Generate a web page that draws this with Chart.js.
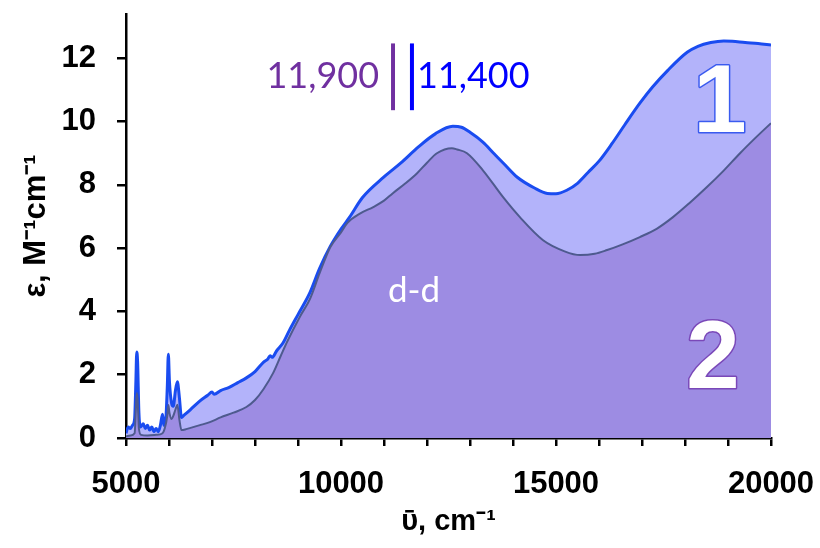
<!DOCTYPE html>
<html><head><meta charset="utf-8">
<script src="https://cdn.jsdelivr.net/npm/chart.js@4.4.0/dist/chart.umd.min.js"></script>
<style>html,body{margin:0;padding:0;background:#fff;}#wrap{width:820px;height:548px;}</style>
</head><body><div id="wrap"><canvas id="c" width="820" height="548"></canvas></div>
<script>
// Series 1 (upper, blue)
const wavenumber1 = [5000,5050,5100,5150,5200,5230,5250,5270,5300,5340,5400,5450,5500,5550,5600,5650,5700,5750,5800,5850,5880,5920,5960,5985,6010,6060,6100,6150,6195,6240,6290,6350,6500,6700,6900,7000,7050,7200,7400,7600,7800,8000,8200,8300,8350,8400,8500,8650,8800,9000,9280,9500,9750,10000,10200,10500,11000,11400,11800,12200,12600,12800,13000,13300,13550,13800,14100,14500,14800,15000,15250,15500,15750,16000,16300,16600,16950,17250,17600,18050,18300,18600,18900,19100,19400,19700,20000];
const epsilon1 = [0.15,0.35,0.3,0.4,0.6,1.8,2.72,2.4,0.8,0.35,0.45,0.3,0.4,0.25,0.35,0.2,0.3,0.2,0.4,0.75,0.4,0.5,1.6,2.65,1.8,1.1,1.0,1.5,1.78,1.3,0.65,0.72,0.9,1.15,1.35,1.45,1.38,1.5,1.6,1.75,1.9,2.1,2.4,2.5,2.6,2.55,2.75,3.0,3.4,3.9,4.6,5.35,6.05,6.6,6.98,7.6,8.25,8.7,9.2,9.62,9.85,9.82,9.66,9.35,9.0,8.65,8.24,7.9,7.73,7.72,7.83,8.05,8.4,8.75,9.3,9.9,10.58,11.1,11.62,12.19,12.38,12.5,12.55,12.54,12.5,12.47,12.42];
// Series 2 (lower, purple)
const wavenumber2 = [5000,5100,5200,5230,5250,5270,5300,5350,5500,5700,5850,5900,5960,5985,6010,6060,6100,6150,6195,6240,6290,6400,6700,6950,7200,7500,7800,8000,8200,8420,8600,8750,9050,9280,9500,9750,10000,10150,10450,10750,11000,11200,11500,11770,12000,12230,12580,12700,12930,13300,13770,14160,14700,15200,15560,15900,16190,16550,16950,17350,17720,18100,18510,18900,19280,19650,20000];
const epsilon2 = [0.05,0.08,0.15,0.9,1.42,1.2,0.3,0.1,0.08,0.1,0.15,0.3,0.7,1.04,0.8,0.6,0.7,0.9,1.05,0.6,0.25,0.28,0.4,0.5,0.65,0.8,0.98,1.2,1.55,2.05,2.6,3.05,3.85,4.4,5.2,6.03,6.5,6.8,7.1,7.3,7.5,7.73,8.05,8.37,8.7,9.0,9.16,9.12,9.0,8.46,7.61,6.98,6.25,5.9,5.78,5.82,5.94,6.12,6.35,6.62,6.98,7.42,7.93,8.45,9.0,9.5,9.95];
const xTickLabels = ['5000','10000','15000','20000'];
const yTickLabels = ['0','2','4','6','8','10','12'];
const seriesNames = ['1','2'];
const annoLabels = ['11,900','11,400','d-d'];

const pts = (xs, ys) => xs.map((v, i) => ({x: v, y: ys[i]}));
const FONT = '"Liberation Sans", Arial, sans-serif';
const TFONT = 'Lato, "Open Sans", sans-serif';

const annotate = {
  id: 'annotate',
  afterDatasetsDraw(chart) {
    const {ctx, scales: {x, y}} = chart;
    ctx.save();
    const b1 = x.getPixelForValue(11210), b2 = x.getPixelForValue(11650);
    const yt = y.getPixelForValue(12.47), yb = y.getPixelForValue(10.36);
    ctx.lineWidth = 4;
    ctx.strokeStyle = '#7030A0';
    ctx.beginPath(); ctx.moveTo(b1, yt); ctx.lineTo(b1, yb); ctx.stroke();
    ctx.strokeStyle = '#0000FF';
    ctx.beginPath(); ctx.moveTo(b2, yt); ctx.lineTo(b2, yb); ctx.stroke();
    ctx.font = '36px ' + TFONT;
    ctx.textBaseline = 'alphabetic';
    const by = y.getPixelForValue(11.05);
    ctx.fillStyle = '#7030A0'; ctx.textAlign = 'right';
    ctx.fillText(annoLabels[0], b1 - 14, by);
    ctx.fillStyle = '#0000FF'; ctx.textAlign = 'left';
    ctx.fillText(annoLabels[1], b2 + 5, by);
    ctx.fillStyle = '#FFFFFF'; ctx.textAlign = 'center';
    ctx.font = '35px ' + TFONT;
    ctx.fillText(annoLabels[2], x.getPixelForValue(11700), y.getPixelForValue(4.3));
    ctx.font = 'bold 96px ' + FONT;
    ctx.lineJoin = 'round';
    ctx.lineWidth = 3;
    ctx.strokeStyle = '#3A5BEF';
    ctx.strokeText(seriesNames[0], x.getPixelForValue(18814), y.getPixelForValue(9.66));
    ctx.fillStyle = '#FFFFFF';
    ctx.fillText(seriesNames[0], x.getPixelForValue(18814), y.getPixelForValue(9.66));
    ctx.strokeStyle = '#7A48B8';
    ctx.strokeText(seriesNames[1], x.getPixelForValue(18651), y.getPixelForValue(1.58));
    ctx.fillText(seriesNames[1], x.getPixelForValue(18651), y.getPixelForValue(1.58));
    ctx.restore();
  }
};

new Chart(document.getElementById('c'), {
  type: 'line',
  data: {
    datasets: [
      {label: seriesNames[1], data: pts(wavenumber2, epsilon2), order: 1,
       borderColor: '#4E5A8E', borderWidth: 2, backgroundColor: '#9D8CE3', fill: 'origin',
       pointRadius: 0, cubicInterpolationMode: 'monotone'},
      {label: seriesNames[0], data: pts(wavenumber1, epsilon1), order: 2,
       borderColor: '#1A4CF0', borderWidth: 3, backgroundColor: '#B3B3FA', fill: 'origin',
       pointRadius: 0, cubicInterpolationMode: 'monotone'}
    ]
  },
  options: {
    responsive: false, animation: false, devicePixelRatio: 1,
    layout: {padding: {top: 14, right: 49, left: 0, bottom: 0}},
    plugins: {legend: {display: false}, tooltip: {enabled: false}},
    scales: {
      x: {
        type: 'linear', min: 5000, max: 20000,
        ticks: {stepSize: 1000, autoSkip: false, maxRotation: 0, padding: 20, color: '#000',
          font: {family: FONT, size: 31, weight: 'bold'},
          callback: v => (v % 5000 === 0 ? xTickLabels[(v - 5000) / 5000] : '')},
        grid: {drawOnChartArea: false, color: '#000', lineWidth: 2.5, tickLength: 8},
        border: {color: '#000', width: 2.5},
        title: {display: true, text: 'ῡ, cm⁻¹', color: '#000',
          font: {family: FONT, size: 29, weight: 'bold'}, padding: {top: 0, bottom: 9}},
        afterFit: s => { s.height = 110; s.paddingLeft = 0; s.paddingRight = 0; }
      },
      y: {
        min: 0, max: 13.4,
        ticks: {stepSize: 2, padding: 21, color: '#000',
          font: {family: FONT, size: 31, weight: 'bold'},
          callback: v => yTickLabels[v / 2]},
        afterBuildTicks: s => { s.ticks = s.ticks.filter(t => Math.abs(t.value % 2) < 1e-9); },
        grid: {drawOnChartArea: false, color: '#000', lineWidth: 2.5, tickLength: 9},
        border: {color: '#000', width: 2.5},
        title: {display: true, text: 'ε, M⁻¹cm⁻¹', color: '#000',
          font: {family: FONT, size: 31, weight: 'bold'}, padding: {top: 18, bottom: 0}},
        afterFit: s => { s.width = 126; s.paddingTop = 0; s.paddingBottom = 0; }
      }
    }
  },
  plugins: [annotate]
});
</script></body></html>
